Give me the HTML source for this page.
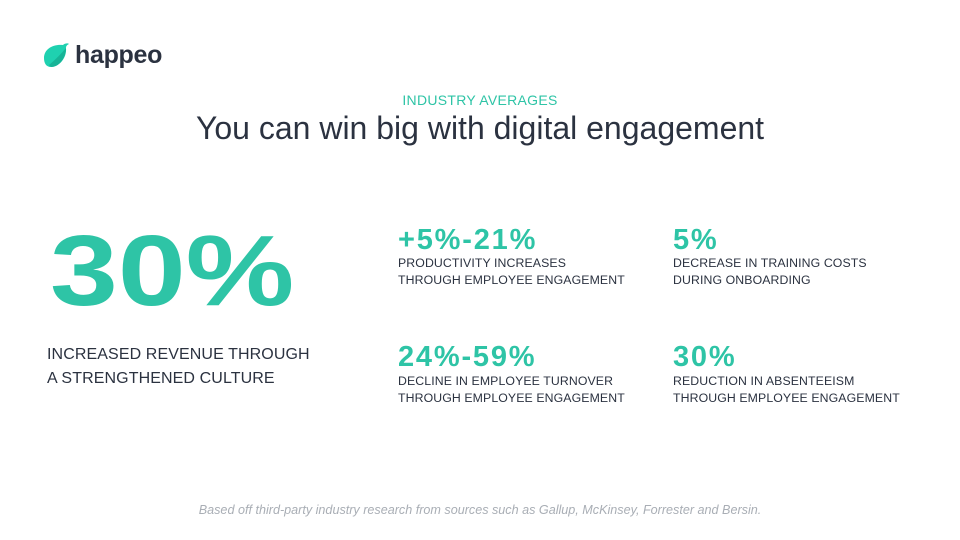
<!DOCTYPE html>
<html><head><meta charset="utf-8"><style>
body{margin:0;width:960px;height:540px;background:#fff;position:relative;overflow:hidden;font-family:"Liberation Sans",sans-serif;color:#2b3240}
.a{position:absolute;white-space:nowrap}
.t{color:#2ec4a6}
.big{font-weight:bold;font-size:29px;line-height:1;letter-spacing:1.8px}
.sm{font-size:12.3px;letter-spacing:0.1px;line-height:17px}
</style></head><body>
<svg class="a" style="left:41px;top:42px" width="30" height="28" viewBox="0 0 30 28"><path d="M3 16C3 7 12 2 22 3C24 1 27 1 28 2C26 3 25 4 25 6C26 16 18 25 10 25C5 25 3 21 3 16Z" fill="#1fd1b0"/><path d="M8 23C14 18 20 12 25 6C25 16 18 25 10 25Z" fill="#17b497"/></svg>
<div class="a" style="left:75px;top:41px;font-size:25px;font-weight:bold;color:#2b3240;letter-spacing:-0.3px">happeo</div>
<div class="a t" style="left:0;width:960px;text-align:center;top:92px;font-size:14px;letter-spacing:0.3px">INDUSTRY AVERAGES</div>
<div class="a" style="left:0;width:960px;text-align:center;top:110px;font-size:32px;color:#2b3240">You can win big with digital engagement</div>
<div class="a t" style="left:50px;top:216px;font-size:100px;font-weight:bold;line-height:1.1;transform:scaleX(1.22);transform-origin:left top">30%</div>
<div class="a" style="left:47px;top:343px;font-size:16px;line-height:24px;letter-spacing:0.1px">INCREASED REVENUE THROUGH<br>A STRENGTHENED CULTURE</div>
<div class="a t big" style="left:398px;top:226px">+5%-21%</div>
<div class="a sm" style="left:398px;top:255px">PRODUCTIVITY INCREASES<br>THROUGH EMPLOYEE ENGAGEMENT</div>
<div class="a t big" style="left:673px;top:226px">5%</div>
<div class="a sm" style="left:673px;top:255px">DECREASE IN TRAINING COSTS<br>DURING ONBOARDING</div>
<div class="a t big" style="left:398px;top:343px">24%-59%</div>
<div class="a sm" style="left:398px;top:373px">DECLINE IN EMPLOYEE TURNOVER<br>THROUGH EMPLOYEE ENGAGEMENT</div>
<div class="a t big" style="left:673px;top:343px">30%</div>
<div class="a sm" style="left:673px;top:373px">REDUCTION IN ABSENTEEISM<br>THROUGH EMPLOYEE ENGAGEMENT</div>
<div class="a" style="left:0;width:960px;text-align:center;top:503px;font-size:12.6px;font-style:italic;color:#a9aeb5">Based off third-party industry research from sources such as Gallup, McKinsey, Forrester and Bersin.</div>
</body></html>
